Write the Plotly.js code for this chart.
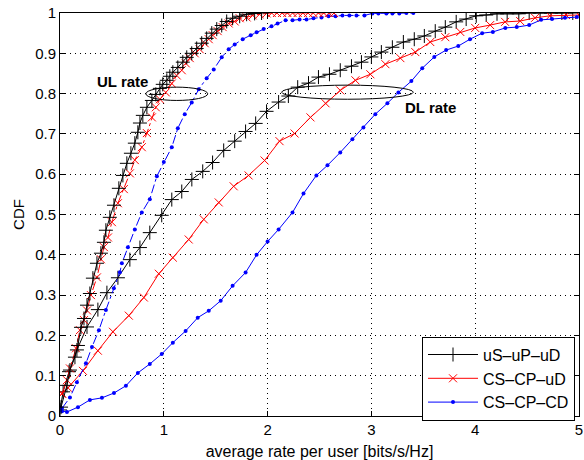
<!DOCTYPE html>
<html>
<head>
<meta charset="utf-8">
<script src="https://cdn.plot.ly/plotly-3.0.1.min.js"></script>
<style>html,body{margin:0;padding:0;background:#fff;}#chart{width:584px;height:460px;}</style>
</head>
<body>
<div id="chart"></div>
<script>
// ---- Data ----
const seriesNames = ["uS\u2013uP\u2013uD", "CS\u2013CP\u2013uD", "CS\u2013CP\u2013CD"];

// Uplink CDFs
const ulBlackX = [0.01,0.067,0.096,0.144,0.173,0.202,0.231,0.26,0.288,0.317,0.356,0.394,0.423,0.442,0.48,0.52,0.567,0.606,0.644,0.683,0.721,0.75,0.77,0.798,0.837,0.885,0.923,0.962,0.99,1.029,1.058,1.087,1.135,1.183,1.221,1.269,1.317,1.365,1.413,1.462,1.51,1.558,1.606,1.663,1.731,1.798,1.875,1.942];
const ulBlackY = [0.022,0.076,0.114,0.146,0.175,0.22,0.242,0.275,0.304,0.342,0.379,0.404,0.431,0.461,0.493,0.523,0.565,0.597,0.627,0.652,0.677,0.704,0.727,0.746,0.766,0.783,0.798,0.813,0.823,0.833,0.843,0.853,0.865,0.878,0.89,0.9,0.912,0.925,0.937,0.95,0.96,0.969,0.979,0.987,0.992,0.997,0.999,1.0];

const ulRedX = [0.019,0.067,0.096,0.154,0.192,0.231,0.26,0.298,0.356,0.394,0.423,0.462,0.5,0.558,0.615,0.673,0.721,0.788,0.837,0.885,0.923,0.962,1.019,1.077,1.125,1.173,1.212,1.25,1.298,1.346,1.394,1.433,1.471,1.519,1.567,1.625,1.683,1.731,1.798,1.856,1.923,1.99,2.04,2.09,2.14,2.19,2.24,2.29,2.34,2.39,2.44,2.49,2.54,2.59,2.64];
const ulRedY = [0.056,0.089,0.118,0.168,0.213,0.238,0.262,0.3,0.344,0.389,0.419,0.443,0.481,0.528,0.563,0.602,0.635,0.667,0.702,0.741,0.766,0.786,0.803,0.825,0.845,0.858,0.875,0.888,0.9,0.91,0.925,0.935,0.945,0.955,0.965,0.974,0.979,0.987,0.989,0.994,0.997,0.999,1,1,1,1,1,1,1,1,1,1,1,1,1];

const ulBlueX = [0.019,0.096,0.163,0.25,0.308,0.375,0.442,0.519,0.577,0.596,0.654,0.721,0.788,0.865,0.933,1.0,1.077,1.135,1.202,1.269,1.337,1.413,1.481,1.558,1.625,1.683,1.76,1.837,1.894,1.962,2.038,2.096,2.173,2.24,2.308,2.375,2.442,2.519,2.587,2.654,2.721,2.788,2.856,2.933,3.01,3.067,3.144,3.202,3.269,3.337,3.404];
const ulBlueY = [0.019,0.046,0.084,0.131,0.171,0.213,0.263,0.317,0.357,0.379,0.419,0.463,0.505,0.538,0.595,0.63,0.667,0.714,0.749,0.778,0.811,0.838,0.86,0.89,0.91,0.922,0.935,0.945,0.952,0.96,0.967,0.974,0.982,0.982,0.984,0.984,0.987,0.989,0.992,0.992,0.994,0.994,0.994,0.994,0.999,0.999,0.999,0.999,0.999,1.0,1.0];

// Downlink CDFs
const dlBlackX = [0.0,0.03,0.087,0.163,0.26,0.365,0.452,0.558,0.673,0.77,0.865,0.98,1.077,1.173,1.27,1.375,1.47,1.577,1.683,1.788,1.885,1.99,2.106,2.2,2.29,2.394,2.49,2.596,2.7,2.808,2.904,3.0,3.096,3.202,3.308,3.413,3.51,3.615,3.712,3.817,3.913,4.01,4.106,4.21,4.308,4.42,4.52,4.625,4.73,4.835,4.94];
const dlBlackY = [0.015,0.06,0.11,0.164,0.221,0.264,0.306,0.343,0.388,0.418,0.455,0.498,0.537,0.557,0.587,0.607,0.629,0.659,0.682,0.706,0.726,0.756,0.779,0.794,0.816,0.826,0.841,0.848,0.858,0.868,0.878,0.891,0.903,0.915,0.928,0.935,0.943,0.955,0.965,0.978,0.985,0.993,0.995,0.998,0.998,0.998,1.0,1.0,1.0,1.0,1.0];

const dlRedX = [0.02,0.077,0.221,0.365,0.51,0.663,0.808,0.952,1.087,1.24,1.385,1.529,1.673,1.817,1.971,2.115,2.26,2.413,2.558,2.7,2.846,2.99,3.135,3.279,3.423,3.567,3.712,3.856,4.0,4.144,4.288,4.433,4.577,4.72,4.875,5.0];
const dlRedY = [0.055,0.07,0.112,0.162,0.209,0.249,0.294,0.353,0.393,0.438,0.488,0.53,0.57,0.597,0.634,0.682,0.701,0.741,0.776,0.808,0.833,0.848,0.873,0.888,0.903,0.928,0.94,0.953,0.963,0.97,0.978,0.98,0.988,0.993,0.995,0.995];

const dlBlueX = [0.02,0.067,0.173,0.288,0.404,0.52,0.635,0.75,0.865,0.98,1.087,1.21,1.327,1.433,1.548,1.663,1.788,1.894,2.0,2.106,2.24,2.346,2.47,2.577,2.7,2.817,2.923,3.038,3.154,3.26,3.385,3.49,3.606,3.72,3.837,3.95,4.067,4.17,4.29,4.4,4.52,4.635,4.74,4.865,4.98];
const dlBlueY = [0.012,0.01,0.022,0.04,0.045,0.057,0.075,0.107,0.129,0.154,0.182,0.211,0.244,0.261,0.286,0.323,0.356,0.4,0.433,0.463,0.505,0.552,0.597,0.622,0.654,0.687,0.716,0.749,0.776,0.803,0.831,0.863,0.891,0.908,0.918,0.935,0.95,0.953,0.963,0.965,0.97,0.983,0.985,0.988,0.99];

const xTicks = [0,1,2,3,4,5];
const yTicks = [0,0.1,0.2,0.3,0.4,0.5,0.6,0.7,0.8,0.9,1];
const yTickText = ["0","0.1","0.2","0.3","0.4","0.5","0.6","0.7","0.8","0.9","1"];

// ---- Styles ----
const BLACK = "#000000", RED = "#ff0000", BLUE = "#0000ff";
const FONT = "Liberation Sans, Arial, sans-serif";
const plusMarker = {symbol: "cross-thin-open", size: 10, color: BLACK, line: {width: 1, color: BLACK}};
const xMarker = {symbol: "x-thin-open", size: 8, color: RED, line: {width: 1, color: RED}};
const dotMarker = {symbol: "circle", size: 4, color: BLUE, line: {width: 0}};

const traces = [
  {x: dlBlackX, y: dlBlackY, mode: "lines+markers", name: seriesNames[0], line: {color: BLACK, width: 1}, marker: plusMarker, showlegend: true},
  {x: dlRedX, y: dlRedY, mode: "lines+markers", name: seriesNames[1], line: {color: RED, width: 1}, marker: xMarker, showlegend: true},
  {x: dlBlueX, y: dlBlueY, mode: "lines+markers", name: seriesNames[2], line: {color: BLUE, width: 1}, marker: dotMarker, showlegend: true},
  {x: ulBlueX, y: ulBlueY, mode: "lines+markers", name: seriesNames[2], line: {color: BLUE, width: 1, dash: "dashdot"}, marker: dotMarker, showlegend: false},
  {x: ulRedX, y: ulRedY, mode: "lines+markers", name: seriesNames[1], line: {color: RED, width: 1, dash: "dashdot"}, marker: xMarker, showlegend: false},
  {x: ulBlackX, y: ulBlackY, mode: "lines+markers", name: seriesNames[0], line: {color: BLACK, width: 1}, marker: plusMarker, showlegend: false}
];

const axisCommon = {
  showline: true, linecolor: BLACK, linewidth: 1, mirror: "ticks",
  ticks: "inside", ticklen: 5, tickcolor: BLACK, tickwidth: 1,
  showgrid: true, gridcolor: BLACK, gridwidth: 1, griddash: "1px,4px",
  zeroline: false, ticklabeloverflow: "allow", automargin: false,
  tickfont: {family: FONT, size: 15, color: BLACK}
};

const layout = {
  width: 584, height: 460,
  margin: {l: 60, r: 5, t: 13, b: 44},
  paper_bgcolor: "#ffffff", plot_bgcolor: "#ffffff",
  font: {family: FONT, size: 15, color: BLACK},
  xaxis: Object.assign({}, axisCommon, {range: [0, 5], tickvals: xTicks, ticktext: xTicks.map(String),
    title: {text: "average rate per user [bits/s/Hz]", font: {size: 16}, standoff: 8}}),
  yaxis: Object.assign({}, axisCommon, {range: [0, 1], tickvals: yTicks, ticktext: yTickText,
    title: {text: "CDF", font: {size: 15}, standoff: 6}}),
  legend: {x: 0.6975, y: 0.197, xanchor: "left", yanchor: "top", bgcolor: "#ffffff",
    bordercolor: BLACK, borderwidth: 1, font: {size: 16}, itemwidth: 50, tracegroupgap: 0},
  showlegend: true,
  shapes: [
    {type: "circle", xref: "x", yref: "y", x0: 0.827, x1: 1.423, y0: 0.783, y1: 0.816, line: {color: BLACK, width: 1}},
    {type: "circle", xref: "x", yref: "y", x0: 2.135, x1: 3.404, y0: 0.786, y1: 0.821, line: {color: BLACK, width: 1}}
  ],
  annotations: [
    {x: 0.606, y: 0.83, xref: "x", yref: "y", text: "<b>UL rate</b>", showarrow: false, font: {size: 15, color: BLACK}},
    {x: 3.57, y: 0.766, xref: "x", yref: "y", text: "<b>DL rate</b>", showarrow: false, font: {size: 15, color: BLACK}}
  ]
};

Plotly.newPlot("chart", traces, layout, {staticPlot: true, displayModeBar: false});
</script>
</body>
</html>
